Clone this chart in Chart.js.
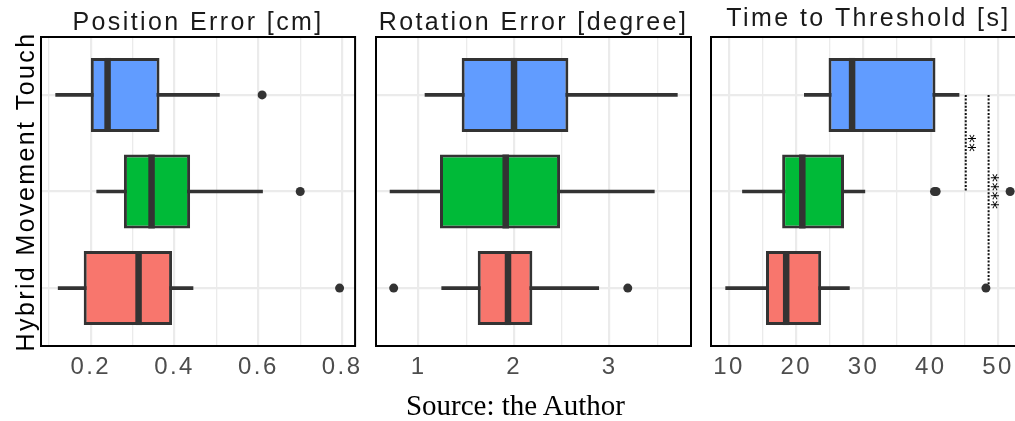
<!DOCTYPE html>
<html>
<head>
<meta charset="utf-8">
<script src="https://cdn.jsdelivr.net/npm/chart.js@4/dist/chart.umd.min.js"></script>
<style>
  html, body { margin: 0; padding: 0; background: #fff; overflow: hidden; width: 1015px; height: 421px; }
  canvas.panel { position: absolute; top: 0; }
  #source {
    position: absolute; left: 315.5px; width: 400px; top: 391px;
    text-align: center; white-space: nowrap; color: #000;
    font: 29px/1 'Liberation Serif', 'Times New Roman', serif;
  }
</style>
</head>
<body>
<canvas id="pos" class="panel" width="370" height="421" style="left:0px"></canvas>
<canvas id="rot" class="panel" width="343" height="421" style="left:362px"></canvas>
<canvas id="time" class="panel" width="343" height="421" style="left:697px"></canvas>
<div id="source">Source: the Author</div>
<script>
// Groups, top to bottom
const groups = ['Touch', 'Movement', 'Hybrid'];
const groupColors = ['#619CFF', '#00BA38', '#F8766D'];

// Position Error [cm]
const posLow      = [0.116, 0.214, 0.122];
const posQ1       = [0.200, 0.279, 0.183];
const posMedian   = [0.240, 0.345, 0.314];
const posQ3       = [0.364, 0.437, 0.394];
const posHigh     = [0.507, 0.610, 0.444];
const posOutliers = [[0.609], [0.700], [0.794]];
const posTicks      = [0.2, 0.4, 0.6, 0.8];
const posTickLabels = ['0.2', '0.4', '0.6', '0.8'];

// Rotation Error [degree]
const rotLow      = [1.068, 0.702, 1.243];
const rotQ1       = [1.452, 1.225, 1.620];
const rotMedian   = [2.000, 1.913, 1.937];
const rotQ3       = [2.569, 2.482, 2.192];
const rotHigh     = [3.710, 3.469, 2.887];
const rotOutliers = [[], [], [0.740, 3.191]];
const rotTicks      = [1, 2, 3];
const rotTickLabels = ['1', '2', '3'];

// Time to Threshold [s]
const timeLow      = [21.2, 12.0, 9.5];
const timeQ1       = [24.8, 17.9, 15.5];
const timeMedian   = [28.3, 20.9, 18.5];
const timeQ3       = [40.7, 27.1, 23.7];
const timeHigh     = [44.2, 30.2, 27.9];
const timeOutliers = [[], [40.55, 40.8, 51.8], [48.2]];
const timeTicks      = [10, 20, 30, 40, 50];
const timeTickLabels = ['10', '20', '30', '40', '50'];

// Pairwise significance brackets (Time to Threshold)
const sigFrom   = ['Touch', 'Touch'];
const sigTo     = ['Movement', 'Hybrid'];
const sigX      = [45.2, 48.6];
const sigLabels = ['**', '****'];

const INK = '#333333';
const GRID = '#EBEBEB';
const SANS = "'Liberation Sans', Arial, sans-serif";
const BOX_WIDTH = 0.766;

const groupPos = g => groups.indexOf(g) + 1;

// Text tracking and black panel frame
const framePlugin = {
  id: 'panelFrame',
  beforeUpdate(chart) { chart.ctx.letterSpacing = '2.4px'; },
  beforeDraw(chart) { chart.ctx.letterSpacing = '2.4px'; },
  afterDraw(chart) {
    const { ctx, chartArea: a } = chart;
    ctx.save();
    ctx.strokeStyle = '#000';
    ctx.lineWidth = 2;
    ctx.strokeRect(a.left, a.top, a.right - a.left, a.bottom - a.top);
    ctx.restore();
  }
};

// Stars next to the dotted comparison lines
const sigPlugin = {
  id: 'sigLabels',
  afterDatasetsDraw(chart, args, opts) {
    if (!opts.labels) return;
    const { ctx, scales: { x, y } } = chart;
    ctx.save();
    ctx.fillStyle = '#000';
    ctx.font = "17px 'DejaVu Sans', sans-serif";
    ctx.letterSpacing = '0.5px';
    ctx.textAlign = 'center';
    ctx.textBaseline = 'middle';
    opts.labels.forEach((lab, i) => {
      const px = x.getPixelForValue(opts.x[i]) + 2;
      const py = y.getPixelForValue((groupPos(opts.from[i]) + groupPos(opts.to[i])) / 2);
      ctx.save();
      ctx.translate(px, py);
      ctx.rotate(Math.PI / 2);
      ctx.fillText(lab, 0, 0);
      ctx.restore();
    });
    ctx.restore();
  }
};

function medianRadius(c) {
  const y = c.chart.scales.y;
  return Math.abs(y.getPixelForValue(2) - y.getPixelForValue(1)) * BOX_WIDTH / 2;
}

function makePanel(id, p) {
  const ys = groups.map((g, i) => i + 1);
  const outlierPts = [];
  p.outliers.forEach((list, i) => list.forEach(v => outlierPts.push({ x: v, y: ys[i] })));

  const datasets = [
    { // boxes: first to third quartile
      type: 'bar', order: 1, grouped: false,
      data: ys.map((y, i) => ({ y, x: [p.q1[i], p.q3[i]] })),
      backgroundColor: groupColors, borderColor: INK, borderWidth: 3, borderSkipped: false,
      categoryPercentage: 1, barPercentage: BOX_WIDTH
    },
    { // whiskers
      type: 'bar', order: 2, grouped: false,
      data: ys.map((y, i) => ({ y, x: [p.low[i], p.high[i]] })),
      backgroundColor: INK, borderWidth: 0, barThickness: 3
    },
    { // medians
      type: 'scatter', order: 0,
      data: ys.map((y, i) => ({ x: p.median[i], y })),
      pointStyle: 'line', pointRotation: 90, pointRadius: medianRadius,
      pointBorderWidth: 6.5, pointBorderColor: INK
    },
    { // outliers
      type: 'scatter', order: 0,
      data: outlierPts,
      pointStyle: 'circle', pointRadius: 4.5, pointBackgroundColor: INK, pointBorderWidth: 0
    }
  ];

  if (p.sig) {
    p.sig.x.forEach((sx, i) => {
      datasets.push({
        type: 'line', order: 0,
        data: [{ x: sx, y: groupPos(p.sig.from[i]) }, { x: sx, y: groupPos(p.sig.to[i]) }],
        borderColor: '#111', borderWidth: 2, borderDash: [2, 1.6], pointRadius: 0, fill: false
      });
    });
  }

  const isMajor = v => p.ticks.findIndex(m => Math.abs(m - v) < 1e-6);

  return new Chart(document.getElementById(id), {
    type: 'bar',
    data: { datasets },
    plugins: [framePlugin, sigPlugin],
    options: {
      responsive: false,
      devicePixelRatio: 1,
      animation: false,
      events: [],
      indexAxis: 'y',
      layout: { padding: { left: 0, right: 14, top: 0, bottom: 0 } },
      plugins: {
        legend: { display: false },
        tooltip: { enabled: false },
        title: {
          display: true, text: p.title, color: '#1A1A1A', fullSize: false,
          font: { family: SANS, size: 25, weight: 'normal', lineHeight: 1 },
          padding: p.titlePad
        },
        sigLabels: p.sig ? { labels: p.sig.labels, x: p.sig.x, from: p.sig.from, to: p.sig.to } : {}
      },
      scales: {
        x: {
          type: 'linear', position: 'bottom', min: p.min, max: p.max, offset: false,
          afterFit: s => { s.height = 75; },
          border: { display: false },
          grid: {
            color: GRID, drawTicks: false, offset: false,
            lineWidth: c => isMajor(c.tick.value) >= 0 ? 2.2 : 1.3
          },
          ticks: {
            stepSize: p.step, includeBounds: false, autoSkip: false, maxRotation: 0,
            padding: 7, color: '#4D4D4D',
            font: { family: SANS, size: 24, lineHeight: 1.2 },
            callback: v => { const k = isMajor(v); return k >= 0 ? p.tickLabels[k] : ''; }
          }
        },
        y: {
          type: 'linear', position: 'left', min: 0.4, max: 3.6, reverse: true, offset: false,
          afterFit: s => { s.width = p.axisWidth; },
          border: { display: false },
          grid: { color: GRID, lineWidth: 2.2, drawTicks: false, offset: false },
          ticks: { display: false, stepSize: 1, includeBounds: false },
          title: p.yTitle ? {
            display: true, text: p.yTitle, color: '#000',
            font: { family: SANS, size: 25, lineHeight: 1 },
            padding: { top: 14.5, bottom: 0 }
          } : { display: false }
        }
      }
    }
  });
}

makePanel('pos', {
  title: 'Position Error [cm]', titlePad: { top: 10.5, bottom: 1.5 },
  low: posLow, q1: posQ1, median: posMedian, q3: posQ3, high: posHigh, outliers: posOutliers,
  ticks: posTicks, tickLabels: posTickLabels, min: 0.081, max: 0.831, step: 0.1,
  axisWidth: 41, yTitle: groups.slice().reverse().join(' ')
});

makePanel('rot', {
  title: 'Rotation Error [degree]', titlePad: { top: 10.5, bottom: 1.5 },
  low: rotLow, q1: rotQ1, median: rotMedian, q3: rotQ3, high: rotHigh, outliers: rotOutliers,
  ticks: rotTicks, tickLabels: rotTickLabels, min: 0.555, max: 3.853, step: 0.5,
  axisWidth: 14
});

makePanel('time', {
  title: 'Time to Threshold [s]', titlePad: { top: 7, bottom: 5 },
  low: timeLow, q1: timeQ1, median: timeMedian, q3: timeQ3, high: timeHigh, outliers: timeOutliers,
  ticks: timeTicks, tickLabels: timeTickLabels, min: 7.32, max: 54.16, step: 5,
  axisWidth: 14,
  sig: { from: sigFrom, to: sigTo, x: sigX, labels: sigLabels }
});
</script>
</body>
</html>
